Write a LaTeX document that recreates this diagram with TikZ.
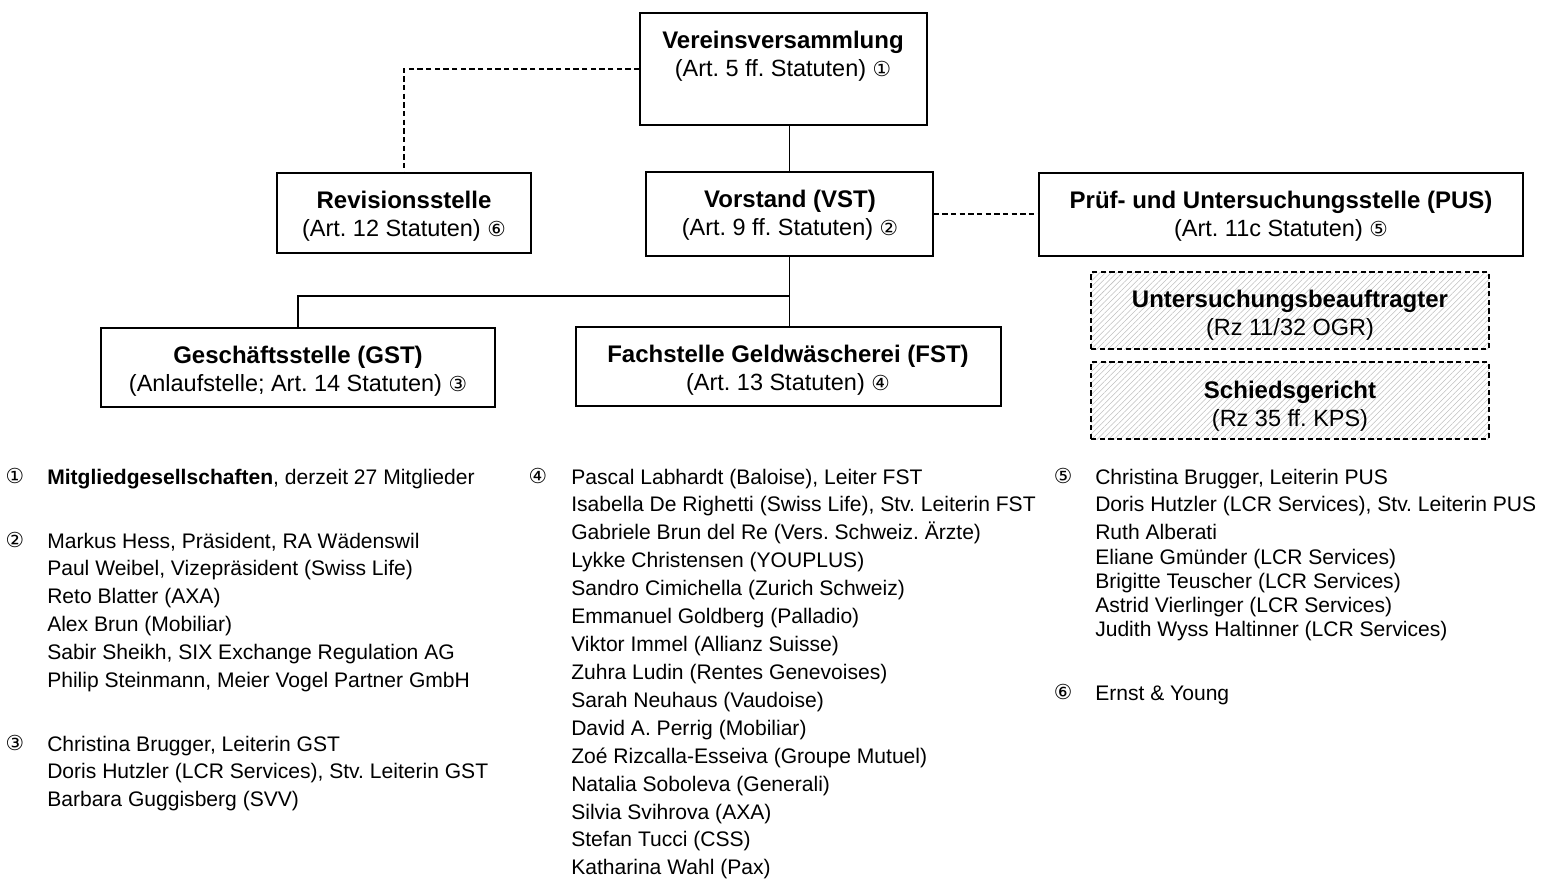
\documentclass[tikz,border=0pt]{standalone}
\usepackage{fontspec}
\setmainfont{Liberation Sans}[Ligatures=NoCommon]
\newfontfamily\circfont{DejaVu Sans}
\usetikzlibrary{fit,patterns.meta}
\newcommand{\circn}[1]{{\circfont\fontsize{15.5}{15}\selectfont #1}}
\frenchspacing
\begin{document}
\frenchspacing
\begin{tikzpicture}[x=0.75pt,y=-0.75pt,
  box/.style={draw, line width=0.9pt, inner sep=0pt},
  dbox/.style={draw, line width=0.9pt, inner sep=0pt, dash pattern=on 4pt off 2.5pt,
     pattern={Lines[angle=45,distance=3pt,line width=0.4pt]}, pattern color=gray!50},
  btext/.style={align=center, font=\fontsize{17.6}{21}\selectfont, inner sep=0pt},
  item/.style={anchor=base west, font=\fontsize{15.8}{18}\selectfont, inner sep=0pt},
  num/.style={anchor=base, inner sep=0pt},
  conn/.style={line width=0.8pt},
  dconn/.style={line width=0.8pt, dash pattern=on 4pt off 2.5pt}]
\newcommand{\ttl}[1]{{\fontsize{18}{21}\selectfont\bfseries #1}}
\useasboundingbox (0,0) rectangle (1545,886);
% boxes
\node[box, fit={(640,13) (927,125)}] (vv) {};
\node[box, fit={(277,173) (531,253)}] (rev) {};
\node[box, fit={(646,172) (933,256)}] (vst) {};
\node[box, fit={(1039,173) (1523,256)}] (pus) {};
\node[dbox, fit={(1091,272) (1489,349)}] (ub) {};
\node[dbox, fit={(1091,362) (1489,439)}] (sg) {};
\node[box, fit={(101,328) (495,407)}] (gst) {};
\node[box, fit={(576,327) (1001,406)}] (fst) {};
% box texts
\node[btext] (vvt) at (783,56) {\ttl{Vereinsversammlung}\\(Art. 5 ff. Statuten) \circn{①}};
\node[btext] (revt) at (404,216) {\ttl{Revisionsstelle}\\(Art. 12 Statuten) \circn{⑥}};
\node[btext] (vstt) at (790,215) {\ttl{Vorstand (VST)}\\(Art. 9 ff. Statuten) \circn{②}};
\node[btext] (pust) at (1281,216) {\ttl{Prüf- und Untersuchungsstelle (PUS)}\\(Art. 11c Statuten) \circn{⑤}};
\node[btext] (ubt) at (1290,315) {\ttl{Untersuchungsbeauftragter}\\(Rz 11/32 OGR)};
\node[btext] (sgt) at (1290,406) {\ttl{Schiedsgericht}\\(Rz 35 ff. KPS)};
\node[btext] (gstt) at (298,371) {\ttl{Geschäftsstelle (GST)}\\(Anlaufstelle; Art. 14 Statuten) \circn{③}};
\node[btext] (fstt) at (788,370) {\ttl{Fachstelle Geldwäscherei (FST)}\\(Art. 13 Statuten) \circn{④}};
% connectors
\draw[conn] (vst.north) -- (vst.north |- vv.south);
\draw[dconn] (vv.west) -| (rev.north);
\draw[dconn] (vst.east) -- (pus.west |- vst.east);
\draw[conn] (vst.south) -- (vst.south |- fst.north);
\coordinate (j) at (vst.south |- 0,296);
\draw[conn] (j) -| (gst.north);
% list column 1
\node[num] (n1) at (15,483) {\circn{①}};
\node[item] (c1a) at (47,484) {\textbf{Mitgliedgesellschaften}, derzeit 27 Mitglieder};
\node[num] (n2) at (15,547) {\circn{②}};
\foreach \t [count=\i from 0] in {{Markus Hess, Präsident, RA Wädenswil},{Paul Weibel, Vizepräsident (Swiss Life)},{Reto Blatter (AXA)},{Alex Brun (Mobiliar)},{Sabir Sheikh, SIX Exchange Regulation AG},{Philip Steinmann, Meier Vogel Partner GmbH}}
  \node[item] (c1b\i) at (47,548+27.8*\i) {\t};
\node[num] (n3) at (15,750) {\circn{③}};
\foreach \t [count=\i from 0] in {{Christina Brugger, Leiterin GST},{Doris Hutzler (LCR Services), Stv. Leiterin GST},{Barbara Guggisberg (SVV)}}
  \node[item] (c1c\i) at (47,751+27.9*\i) {\t};
% list column 2
\node[num] (n4) at (538,483) {\circn{④}};
\foreach \t [count=\i from 0] in {{Pascal Labhardt (Baloise), Leiter FST},{Isabella De Righetti (Swiss Life), Stv. Leiterin FST},{Gabriele Brun del Re (Vers. Schweiz. Ärzte)},{Lykke Christensen (YOUPLUS)},{Sandro Cimichella (Zurich Schweiz)},{Emmanuel Goldberg (Palladio)},{Viktor Immel (Allianz Suisse)},{Zuhra Ludin (Rentes Genevoises)},{Sarah Neuhaus (Vaudoise)},{David A. Perrig (Mobiliar)},{Zoé Rizcalla-Esseiva (Groupe Mutuel)},{Natalia Soboleva (Generali)},{Silvia Svihrova (AXA)},{Stefan Tucci (CSS)},{Katharina Wahl (Pax)}}
  \node[item] (c2\i) at (571,484+27.92*\i) {\t};
% list column 3
\node[num] (n5) at (1063,483) {\circn{⑤}};
\foreach \t [count=\i from 0] in {{Christina Brugger, Leiterin PUS},{Doris Hutzler (LCR Services), Stv. Leiterin PUS},{Ruth Alberati}}
  \node[item] (c3a\i) at (1095,484+27.5*\i) {\t};
\foreach \t [count=\i from 0] in {{Eliane Gmünder (LCR Services)},{Brigitte Teuscher (LCR Services)},{Astrid Vierlinger (LCR Services)},{Judith Wyss Haltinner (LCR Services)}}
  \node[item] (c3b\i) at (1095,564+24.1*\i) {\t};
\node[num] (n6) at (1063,699) {\circn{⑥}};
\node[item] (c3c) at (1095,700) {Ernst \& Young};
\end{tikzpicture}
\end{document}
